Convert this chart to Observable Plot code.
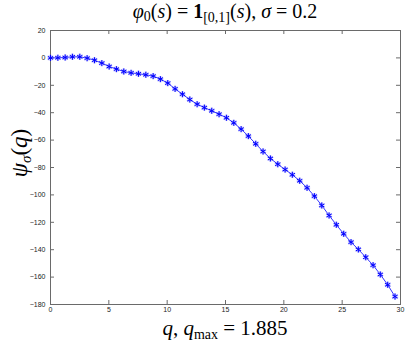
<!DOCTYPE html>
<html>
<head>
<meta charset="utf-8">
<script src="https://cdn.jsdelivr.net/npm/d3@7"></script>
<script src="https://cdn.jsdelivr.net/npm/@observablehq/plot@0.6"></script>
<style>
  html, body { margin: 0; padding: 0; background: #fff; }
  #chart svg { display: block; }
</style>
</head>
<body>
<div id="chart"></div>
<script>
const qValues = [0, 0.63, 1.26, 1.88, 2.51, 3.14, 3.77, 4.40, 5.03, 5.65,
  6.28, 6.91, 7.54, 8.17, 8.80, 9.42, 10.05, 10.68, 11.31, 11.94,
  12.57, 13.19, 13.82, 14.45, 15.08, 15.71, 16.34, 16.96, 17.59, 18.22,
  18.85, 19.48, 20.11, 20.73, 21.36, 21.99, 22.62, 23.25, 23.88, 24.50,
  25.13, 25.76, 26.39, 27.02, 27.65, 28.27, 28.90, 29.53];
const psiValues = [0, 0.1, 0.3, 0.8, 0.8, -0.2, -1.7, -3.8, -6.3, -8.2,
  -9.9, -10.9, -11.6, -12.3, -13.3, -15.5, -18.4, -22.6, -26.5, -30.4,
  -33.8, -36.3, -38.6, -41.1, -43.7, -47.4, -52.0, -57.1, -62.7, -68.3,
  -73.4, -77.6, -81.5, -85.3, -89.7, -94.8, -100.9, -107.7, -115.0, -121.8,
  -128.4, -134.5, -139.8, -145.5, -151.3, -158.1, -165.6, -174.2];
const xTicks = [0, 5, 10, 15, 20, 25, 30];
const yTicks = [-180, -160, -140, -120, -100, -80, -60, -40, -20, 0, 20];

const data = qValues.map((q, i) => ({q, psi: psiValues[i]}));

const W = 407, H = 341, mL = 50, mR = 7, mT = 30, mB = 37;
const fw = W - mL - mR, fh = H - mT - mB;
const axisColor = "#6a6a6a";
const tl = 4;

const chart = Plot.plot({
  width: W, height: H,
  marginLeft: mL, marginRight: mR, marginTop: mT, marginBottom: mB,
  style: {fontFamily: "'Liberation Sans', Arial, sans-serif", background: "#fff", color: "#222"},
  x: {domain: [0, 30]},
  y: {domain: [-180, 20]},
  marks: [
    Plot.frame({stroke: axisColor}),
    Plot.tickX(xTicks, {x: d => d, insetTop: fh - tl, stroke: axisColor}),
    Plot.tickX(xTicks, {x: d => d, insetBottom: fh - tl, stroke: axisColor}),
    Plot.tickY(yTicks, {y: d => d, insetRight: fw - tl, stroke: axisColor}),
    Plot.tickY(yTicks, {y: d => d, insetLeft: fw - tl, stroke: axisColor}),
    Plot.axisX({ticks: xTicks, tickSize: 0, tickPadding: 3, fontSize: 7, label: null, tickFormat: d3.format("")}),
    Plot.axisY({ticks: yTicks, tickSize: 0, tickPadding: 5, fontSize: 7, label: null, tickFormat: d3.format("")}),
    Plot.line(data, {x: "q", y: "psi", stroke: "#0000ff", strokeWidth: 0.8}),
    Plot.dot(data, {x: "q", y: "psi", symbol: "asterisk", r: 3, stroke: "#7777ff", strokeWidth: 2.2, strokeOpacity: 0.45}),
    Plot.dot(data, {x: "q", y: "psi", symbol: "asterisk", r: 2.8, stroke: "#0000ff", strokeWidth: 1})
  ]
});

document.getElementById("chart").appendChild(chart);

const svg = d3.select(chart);
const serif = "'Liberation Serif', 'DejaVu Serif', serif";

// Title
const title = svg.append("text")
  .attr("x", mL + fw / 2).attr("y", 18)
  .attr("text-anchor", "middle")
  .style("font-family", serif).style("font-size", "20px").attr("fill", "#000");
title.append("tspan").attr("font-style", "italic").text("φ");
title.append("tspan").attr("font-size", "14px").attr("dy", 3).text("0");
title.append("tspan").attr("dy", -3).text("(");
title.append("tspan").attr("font-style", "italic").text("s");
title.append("tspan").text(") = ");
title.append("tspan").attr("font-weight", "bold").text("1");
title.append("tspan").attr("font-size", "14px").attr("dy", 4).text("[0,1]");
title.append("tspan").attr("dy", -4).text("(");
title.append("tspan").attr("font-style", "italic").text("s");
title.append("tspan").text("), ");
title.append("tspan").attr("font-style", "italic").text("σ");
title.append("tspan").text(" = 0.2");

// X label
const xl = svg.append("text")
  .attr("x", mL + fw / 2).attr("y", 335)
  .attr("text-anchor", "middle")
  .style("font-family", serif).style("font-size", "21px").attr("fill", "#000");
xl.append("tspan").attr("font-style", "italic").text("q");
xl.append("tspan").text(", ");
xl.append("tspan").attr("font-style", "italic").text("q");
xl.append("tspan").attr("font-size", "14px").attr("dy", 4).text("max");
xl.append("tspan").attr("dy", -4).text(" = 1.885");

// Y label
const yl = svg.append("text")
  .attr("transform", `translate(27, ${mT + fh / 2 - 14}) rotate(-90)`)
  .attr("text-anchor", "middle")
  .style("font-family", serif).style("font-size", "23px").attr("fill", "#000");
yl.append("tspan").attr("font-style", "italic").text("ψ");
yl.append("tspan").attr("font-style", "italic").attr("font-size", "15px").attr("dy", 4).text("σ");
yl.append("tspan").attr("dy", -4).text("(");
yl.append("tspan").attr("font-style", "italic").text("q");
yl.append("tspan").text(")");
</script>
</body>
</html>
